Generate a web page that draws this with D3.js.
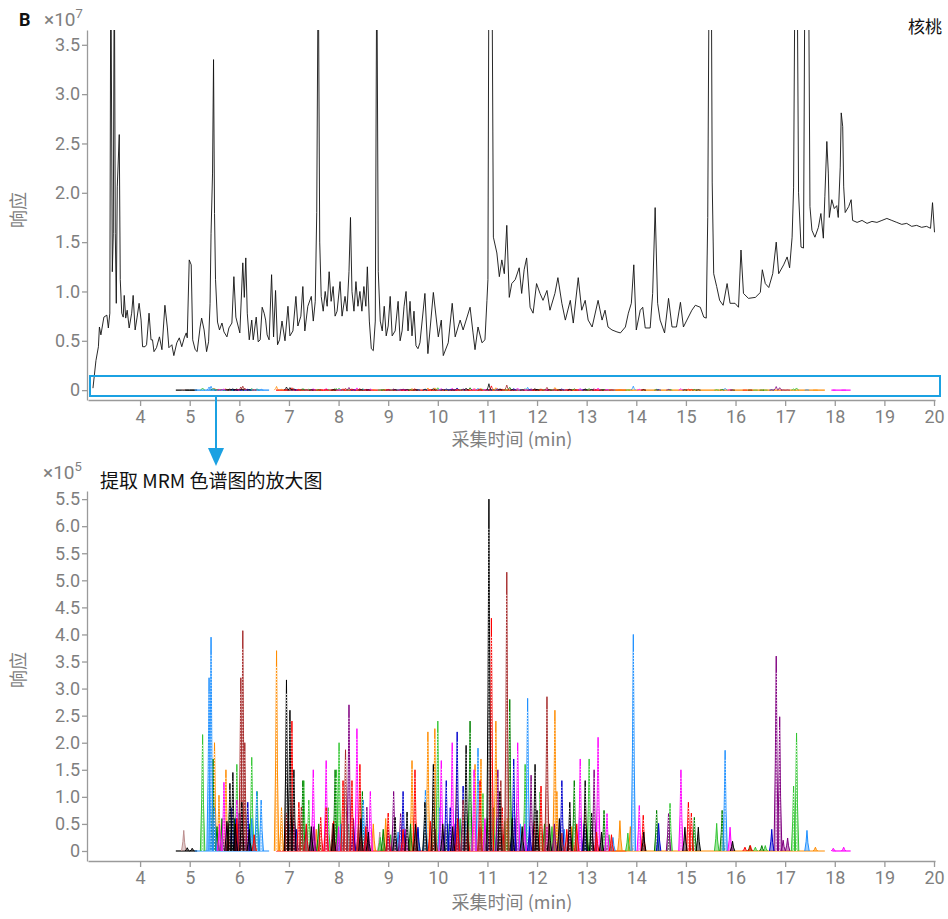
<!DOCTYPE html>
<html>
<head>
<meta charset="utf-8">
<script src="https://cdn.jsdelivr.net/npm/d3@7"></script>
<style>
  body { margin: 0; background: #fff; }
  svg text { font-family: Roboto, "Noto Sans CJK SC", sans-serif; }
</style>
</head>
<body>
<svg id="chart" width="948" height="919"></svg>
<script>
// TIC trace of the walnut sample, [time (min), response (x10^7)]
const ticPoints = [
  [3.05,0.02],[3.11,0.30],[3.16,0.44],[3.18,0.64],[3.21,0.56],[3.27,0.74],[3.33,0.76],[3.36,0.63],[3.39,0.78],
  [3.41,4.5],[3.44,1.2],[3.46,1.59],[3.48,4.5],[3.50,1.59],[3.52,0.88],[3.54,2.06],[3.58,2.59],[3.60,1.12],
  [3.63,0.78],[3.66,0.74],[3.68,0.96],[3.71,0.73],[3.74,0.81],[3.78,0.63],[3.83,0.78],[3.86,0.96],[3.90,0.61],
  [3.94,0.74],[3.98,0.88],[4.02,0.71],[4.05,0.44],[4.10,0.44],[4.13,0.46],[4.18,0.78],[4.22,0.51],[4.25,0.51],
  [4.28,0.39],[4.33,0.43],[4.39,0.54],[4.44,0.41],[4.50,0.86],[4.55,0.63],[4.58,0.43],[4.64,0.46],[4.68,0.35],
  [4.74,0.48],[4.79,0.53],[4.84,0.44],[4.89,0.53],[4.93,0.58],[4.95,0.53],[4.99,1.32],[5.03,1.27],[5.06,0.51],
  [5.11,0.41],[5.15,0.39],[5.21,0.64],[5.24,0.73],[5.29,0.61],[5.34,0.39],[5.38,0.49],[5.41,0.88],[5.43,1.59],
  [5.46,2.20],[5.48,3.35],[5.50,1.79],[5.52,1.12],[5.56,0.69],[5.60,0.61],[5.65,0.68],[5.69,0.59],[5.75,0.54],
  [5.79,0.63],[5.85,0.68],[5.89,1.15],[5.93,0.74],[5.96,0.68],[6.01,0.58],[6.07,1.29],[6.10,0.94],[6.13,1.34],
  [6.16,0.78],[6.20,0.51],[6.25,0.71],[6.28,0.51],[6.34,0.74],[6.38,0.49],[6.42,0.51],[6.46,0.84],[6.50,0.78],
  [6.53,0.71],[6.56,0.56],[6.60,0.51],[6.65,1.17],[6.69,0.54],[6.73,1.01],[6.77,0.46],[6.81,0.51],[6.86,0.70],
  [6.92,0.50],[6.98,0.85],[7.02,0.55],[7.08,0.60],[7.14,0.95],[7.18,0.65],[7.24,0.75],[7.28,1.05],[7.32,0.60],
  [7.38,0.85],[7.45,0.95],[7.49,0.70],[7.53,0.90],[7.56,1.80],[7.59,4.5],[7.62,1.50],[7.65,0.95],[7.69,0.80],
  [7.73,1.00],[7.77,0.85],[7.81,1.20],[7.85,0.90],[7.89,1.05],[7.93,0.75],[7.97,0.80],[8.03,1.10],[8.07,0.75],
  [8.13,0.95],[8.17,0.80],[8.21,1.20],[8.24,1.75],[8.27,1.00],[8.31,0.80],[8.35,1.10],[8.39,0.85],[8.43,1.00],
  [8.47,0.80],[8.51,1.05],[8.55,0.85],[8.58,1.25],[8.62,0.70],[8.66,0.42],[8.70,0.40],[8.74,0.70],[8.77,4.5],
  [8.80,1.20],[8.84,0.70],[8.88,0.60],[8.92,0.85],[8.96,0.55],[9.00,0.65],[9.04,0.95],[9.08,0.55],[9.14,0.60],
  [9.20,0.90],[9.24,0.50],[9.28,0.60],[9.32,0.85],[9.36,1.00],[9.40,0.60],[9.44,0.90],[9.48,0.55],[9.52,0.80],
  [9.56,0.45],[9.60,0.42],[9.64,0.48],[9.74,0.98],[9.80,0.37],[9.91,0.99],[10.01,0.54],[10.07,0.71],[10.11,0.35],
  [10.21,0.48],[10.29,0.88],[10.35,0.54],[10.45,0.71],[10.51,0.61],[10.65,0.84],[10.71,0.58],[10.75,0.41],
  [10.81,0.64],[10.89,0.48],[10.95,0.51],[10.99,0.91],[11.01,1.12],[11.03,4.5],[11.09,4.5],[11.12,1.55],
  [11.19,1.39],[11.24,1.15],[11.29,1.32],[11.34,1.18],[11.39,1.67],[11.44,0.94],[11.49,1.08],[11.56,1.12],
  [11.64,1.24],[11.69,0.98],[11.74,1.22],[11.79,1.34],[11.86,0.84],[11.92,0.78],[11.99,1.08],[12.06,0.98],
  [12.12,0.91],[12.20,1.01],[12.26,0.81],[12.36,0.98],[12.42,1.14],[12.50,0.88],[12.57,0.71],[12.67,0.91],
  [12.73,0.68],[12.83,1.14],[12.90,0.81],[12.97,0.91],[13.03,0.71],[13.11,0.64],[13.23,0.91],[13.31,0.71],
  [13.37,0.81],[13.43,0.64],[13.51,0.61],[13.61,0.59],[13.68,0.58],[13.78,0.64],[13.84,0.78],[13.90,0.88],
  [13.95,1.27],[14.00,0.61],[14.08,0.81],[14.13,0.84],[14.18,0.63],[14.28,0.63],[14.33,0.98],[14.38,1.85],
  [14.43,0.88],[14.48,0.71],[14.57,0.58],[14.65,0.93],[14.72,0.64],[14.81,0.64],[14.89,0.89],[14.95,0.64],
  [15.02,0.71],[15.12,0.81],[15.19,0.86],[15.29,0.84],[15.36,0.74],[15.41,0.73],[15.44,1.75],[15.47,4.5],
  [15.51,4.5],[15.53,2.10],[15.56,1.18],[15.62,1.05],[15.68,0.91],[15.75,0.86],[15.83,1.08],[15.89,0.88],
  [15.99,0.88],[16.06,0.84],[16.11,1.42],[16.16,0.98],[16.26,0.93],[16.40,0.94],[16.50,0.99],[16.54,1.22],
  [16.60,1.08],[16.67,1.04],[16.75,1.18],[16.82,1.50],[16.87,1.18],[16.97,1.27],[17.04,1.35],[17.09,1.24],
  [17.14,1.55],[17.17,2.05],[17.20,4.5],[17.24,4.5],[17.27,2.00],[17.32,1.45],[17.37,1.44],[17.40,4.5],
  [17.47,4.5],[17.50,1.86],[17.54,1.62],[17.60,1.55],[17.67,1.65],[17.72,1.79],[17.77,1.54],[17.80,1.96],
  [17.84,2.52],[17.87,2.20],[17.89,1.75],[17.94,1.93],[17.99,1.84],[18.04,1.87],[18.07,1.75],[18.11,2.26],
  [18.13,2.81],[18.16,2.67],[18.18,2.06],[18.21,1.80],[18.28,1.86],[18.33,1.93],[18.36,1.72],[18.45,1.70],
  [18.55,1.72],[18.65,1.69],[18.75,1.71],[18.85,1.70],[18.95,1.72],[19.05,1.74],[19.15,1.72],[19.25,1.70],
  [19.35,1.68],[19.45,1.69],[19.55,1.66],[19.65,1.67],[19.75,1.65],[19.85,1.66],[19.93,1.64],[19.97,1.90],
  [20.01,1.60]
];

// MRM peaks, [retention time (min), height (x10^5)], one array per trace colour
const peaksBlack = [[4.95,0.06],[5.05,0.05],[5.75,0.55],[5.81,1.25],[5.87,1.45],[5.92,0.5],[6.05,0.9],[6.20,0.4],
  [6.95,3.16],[7.02,2.6],[7.10,1.5],[7.45,0.45],[7.90,0.5],[8.45,0.6],[8.60,0.35],[9.14,0.62],[9.38,0.72],
  [9.55,0.5],[9.74,0.9],[9.91,1.6],[10.10,0.5],[10.30,0.45],[10.57,1.95],[11.03,6.5],[11.25,1.1],[11.50,0.6],
  [11.70,0.45],[11.96,1.6],[12.00,0.75],[12.25,0.5],[12.45,0.6],[12.66,0.9],[12.97,1.3],[13.10,0.7],[13.30,0.35],
  [14.15,0.35],[14.98,0.44],[15.25,0.44],[15.94,0.18]];
const peaksRed = [[5.78,0.35],[5.95,0.6],[6.30,0.3],[6.95,0.7],[7.06,2.4],[7.20,0.9],[7.35,0.5],[7.64,0.62],
  [7.75,0.8],[7.90,0.55],[8.09,1.3],[8.27,1.3],[8.43,1.6],[8.55,0.45],[9.00,0.7],[9.30,0.4],[9.54,1.5],
  [9.85,0.55],[10.40,0.6],[10.60,0.5],[10.85,1.3],[11.08,4.3],[11.30,0.8],[11.95,0.55],[12.08,1.2],[12.60,0.4],
  [12.80,0.5],[13.20,0.35],[13.50,0.3],[14.14,0.66],[15.05,0.9],[15.11,0.7],[16.19,0.07],[16.30,0.1]];
const peaksLime = [[5.26,2.15],[5.80,0.7],[5.95,1.6],[6.05,0.55],[6.25,1.73],[6.36,1.1],[7.05,0.6],[7.30,1.3],
  [7.40,0.94],[7.79,0.8],[7.96,1.5],[8.01,2.0],[8.20,0.5],[8.84,0.25],[9.05,0.3],[9.60,0.4],[10.00,2.4],
  [10.45,0.6],[10.91,1.06],[11.12,0.8],[11.35,0.55],[11.59,0.88],[11.76,1.6],[12.06,1.09],[12.30,0.45],
  [13.05,1.7],[13.45,0.3],[13.83,0.33],[14.68,0.88],[15.62,0.51],[16.40,0.07],[16.60,0.1],[17.17,1.2],[17.23,2.18]];
const peaksGreen = [[5.47,1.7],[5.55,0.45],[5.65,0.6],[5.90,0.6],[6.12,0.8],[6.20,0.5],[7.28,1.3],[7.60,0.5],
  [7.93,1.5],[8.48,1.1],[8.90,0.4],[9.45,0.5],[10.20,0.5],[10.65,2.4],[11.00,0.6],[11.45,2.8],[12.15,0.5],
  [12.75,1.3],[13.00,0.4],[13.35,0.75],[14.41,0.75],[15.17,0.62],[15.73,0.75],[16.29,0.1],[16.53,0.1]];
const peaksDodger = [[5.39,3.2],[5.43,3.95],[5.50,0.8],[6.25,0.6],[6.35,1.1],[6.44,0.94],[7.02,0.5],[7.35,0.45],
  [8.05,0.5],[8.50,0.94],[9.20,0.35],[9.75,1.12],[10.04,0.8],[10.55,0.55],[10.81,1.9],[11.20,0.6],[11.66,0.5],
  [11.81,2.82],[12.55,0.4],[12.87,0.62],[13.53,0.25],[13.94,4.0],[15.79,1.86],[17.44,0.38]];
const peaksBlue = [[5.85,0.8],[5.93,0.6],[6.00,0.7],[6.08,0.55],[6.17,0.9],[7.15,0.4],[8.30,0.45],[9.00,0.4],
  [9.30,1.1],[9.60,0.44],[10.17,1.3],[10.25,0.8],[10.39,2.2],[10.51,1.2],[11.05,0.55],[11.53,1.7],[11.85,0.45],
  [12.50,1.3],[12.95,0.5],[14.45,0.51],[16.73,0.4]];
const peaksOrange = [[5.50,2.0],[5.59,1.03],[5.73,1.5],[6.75,3.7],[6.85,0.8],[7.55,0.4],[8.70,0.5],[8.95,0.6],
  [9.48,1.67],[9.80,2.2],[9.94,2.26],[10.15,0.45],[10.38,1.6],[10.75,1.6],[10.87,1.7],[11.17,2.4],[11.40,0.6],
  [12.36,2.6],[12.40,1.1],[12.70,0.45],[12.97,0.79],[13.67,0.56],[13.88,0.45],[17.61,0.07]];
const peaksMagenta = [[5.60,0.5],[5.69,1.27],[5.95,0.94],[6.02,0.7],[6.15,0.45],[7.10,0.55],[7.49,1.5],[7.75,1.67],
  [8.00,0.45],[8.37,2.26],[8.64,1.1],[9.35,0.4],[10.07,1.67],[10.29,2.0],[10.73,1.5],[10.95,0.6],[11.61,2.0],
  [11.75,0.5],[12.20,0.45],[12.87,1.7],[13.23,2.1],[13.41,0.69],[14.06,0.84],[14.90,1.5],[15.89,0.44],
  [17.97,0.05],[18.18,0.07]];
const peaksPurple = [[5.98,0.5],[7.50,0.45],[8.21,2.7],[8.30,0.6],[8.57,0.81],[9.11,1.1],[9.25,0.69],[10.35,0.5],
  [11.21,1.5],[11.55,0.6],[11.88,1.4],[12.35,0.5],[12.66,0.51],[13.15,1.5],[14.65,0.69],[16.82,3.6],[16.89,2.48],
  [16.96,0.2],[17.05,0.24]];
const peaksBrown = [[5.78,0.5],[6.03,3.2],[6.07,4.07],[6.11,2.0],[6.98,0.55],[7.25,0.81],[7.88,0.51],[8.14,1.87],
  [8.40,0.5],[9.95,0.4],[10.51,0.94],[10.85,0.45],[11.27,1.3],[11.39,5.15],[12.00,0.5],[12.20,2.85],[12.50,0.33]];
const peaksRosy = [[4.88,0.38],[8.83,0.35],[13.07,0.4]];

// flat baseline pieces of the MRM traces: [trace, start, end]
const baselineSegments = [["black",4.72,5.15],["dodger",5.10,6.60],["red",6.74,13.80],["orange",13.50,17.80],["magenta",17.95,18.32]];

const xTicks = d3.range(4, 21);
const topYTicks = [0, 0.5, 1.0, 1.5, 2.0, 2.5, 3.0, 3.5];
const topYLabels = ["0", "0.5", "1.0", "1.5", "2.0", "2.5", "3.0", "3.5"];
const botYTicks = [0, 0.5, 1.0, 1.5, 2.0, 2.5, 3.0, 3.5, 4.0, 4.5, 5.0, 5.5, 6.0, 6.5];
const botYLabels = ["0", "0.5", "1.0", "1.5", "2.0", "2.5", "3.0", "3.5", "4.0", "4.5", "5.0", "5.5", "6.0", "5.5"];

const traceColors = {
  black: "#000000", red: "#ff0000", lime: "#33c633", green: "#008000", dodger: "#1e90ff",
  blue: "#0000cd", orange: "#ff8c00", magenta: "#ff00ff", purple: "#800080", brown: "#a52a2a", rosy: "#bc8f8f"
};
const mrmSeries = [
  {key: "rosy", peaks: peaksRosy}, {key: "orange", peaks: peaksOrange}, {key: "lime", peaks: peaksLime},
  {key: "green", peaks: peaksGreen}, {key: "dodger", peaks: peaksDodger}, {key: "magenta", peaks: peaksMagenta},
  {key: "purple", peaks: peaksPurple}, {key: "blue", peaks: peaksBlue}, {key: "red", peaks: peaksRed},
  {key: "brown", peaks: peaksBrown}, {key: "black", peaks: peaksBlack}
];

const svg = d3.select("#chart");
const axisGrey = "#9a9a9a", textGrey = "#7f7f7f", boxBlue = "#1ba1e2";

let x = d3.scaleLinear().domain([2.95, 20.02]).range([88, 935]);
let yTop = d3.scaleLinear().domain([-0.1, 3.65]).range([400, 30]);
let yBot = d3.scaleLinear().domain([-0.185, 6.65]).range([861, 491]);

function styleAxis(g) {
  g.select(".domain").attr("stroke", axisGrey).attr("stroke-width", 1.3);
  g.selectAll(".tick line").attr("stroke", axisGrey).attr("stroke-width", 1.3);
  g.selectAll(".tick text").attr("fill", textGrey).style("font-size", "18px").style("font-family", "Roboto");
}

function drawAxes(yScale, ticks, labels, baseY) {
  let xAxis = d3.axisBottom(x).tickValues(xTicks).tickFormat(d3.format("d"))
    .tickSize(6).tickPadding(4).tickSizeOuter(0);
  svg.append("g").attr("transform", "translate(0," + baseY + ")").call(xAxis).call(styleAxis);
  let yAxis = d3.axisLeft(yScale).tickValues(ticks).tickFormat((d, i) => labels[i])
    .tickSize(5).tickPadding(2).tickSizeOuter(0);
  svg.append("g").attr("transform", "translate(87,0)").call(yAxis).call(styleAxis);
}

function drawMrm(g, yScale, detailed) {
  let line = d3.line().x(d => x(d[0])).y(d => yScale(d[1]));
  baselineSegments.forEach(s => {
    g.append("path").attr("d", line([[s[1], 0], [s[2], 0]]))
      .attr("stroke", traceColors[s[0]]).attr("stroke-width", 1.2).attr("fill", "none");
  });
  let hw = 0.045;
  mrmSeries.forEach(s => {
    let c = traceColors[s.key];
    s.peaks.forEach(p => {
      let pts = [[p[0] - hw, 0], [p[0] - hw * 0.4, p[1] * 0.45], [p[0], p[1]], [p[0] + hw * 0.4, p[1] * 0.4], [p[0] + hw, 0]];
      g.append("path").attr("d", line(pts))
        .attr("stroke", c).attr("stroke-width", detailed ? 1 : 0.8)
        .attr("fill", detailed ? c : "none").attr("fill-opacity", 0.45);
      if (detailed && p[1] > 0.6) {
        g.append("path").attr("d", line([[p[0], 0], [p[0], p[1] * 0.92]]))
          .attr("stroke", "#fff").attr("stroke-width", 0.9).attr("stroke-dasharray", "1.2 1.8");
      }
    });
  });
}

// ---- top panel: TIC ----
svg.append("clipPath").attr("id", "topClip").append("rect")
  .attr("x", 88).attr("y", 30).attr("width", 850).attr("height", 370);

drawAxes(yTop, topYTicks, topYLabels, 400);

let ticLine = d3.line().x(d => x(d[0])).y(d => yTop(d[1]));
svg.append("path").datum(ticPoints).attr("d", ticLine)
  .attr("clip-path", "url(#topClip)")
  .attr("fill", "none").attr("stroke", "#111").attr("stroke-width", 0.9);

drawMrm(svg.append("g").attr("clip-path", "url(#topClip)"), d => yTop(d / 100), false);

// zoom box + arrow
svg.append("rect").attr("x", 90).attr("y", 376).attr("width", 850).attr("height", 20)
  .attr("fill", "none").attr("stroke", boxBlue).attr("stroke-width", 2);
svg.append("line").attr("x1", 216).attr("x2", 216).attr("y1", 397).attr("y2", 452)
  .attr("stroke", boxBlue).attr("stroke-width", 2);
svg.append("path").attr("d", "M208,448 L224,448 L216,466 Z").attr("fill", boxBlue);

// ---- bottom panel: MRM ----
drawAxes(yBot, botYTicks, botYLabels, 861);
svg.append("clipPath").attr("id", "botClip").append("rect")
  .attr("x", 88).attr("y", 491).attr("width", 850).attr("height", 370);
drawMrm(svg.append("g").attr("clip-path", "url(#botClip)"), yBot, true);

// ---- text ----
svg.append("text").attr("x", 19).attr("y", 26).text("B")
  .style("font-size", "18px").style("font-weight", "bold").attr("fill", "#111");

function exponent(xp, yp, ex) {
  let t = svg.append("text").attr("x", xp).attr("y", yp).attr("fill", textGrey).style("font-size", "19px");
  t.append("tspan").text("×10");
  t.append("tspan").text(ex).attr("dy", -8).style("font-size", "13px");
}
exponent(44, 26, "7");
exponent(43, 479, "5");

svg.append("text").attr("x", 942).attr("y", 33).attr("text-anchor", "end").text("核桃")
  .attr("fill", "#111").style("font-size", "17px").style("font-family", "'Noto Sans CJK SC'");
svg.append("text").attr("x", 100).attr("y", 488).text("提取 MRM 色谱图的放大图")
  .attr("fill", "#111").style("font-size", "19px").style("font-family", "'Noto Sans CJK SC'");

[446, 909].forEach(yy => {
  svg.append("text").attr("x", 512).attr("y", yy).attr("text-anchor", "middle").text("采集时间 (min)")
    .attr("fill", textGrey).style("font-size", "18px").style("font-family", "'Noto Sans CJK SC'");
});
[210, 670].forEach(yy => {
  svg.append("text").attr("transform", "translate(25," + yy + ") rotate(-90)").attr("text-anchor", "middle")
    .text("响应").attr("fill", textGrey).style("font-size", "18px").style("font-family", "'Noto Sans CJK SC'");
});
</script>
</body>
</html>
